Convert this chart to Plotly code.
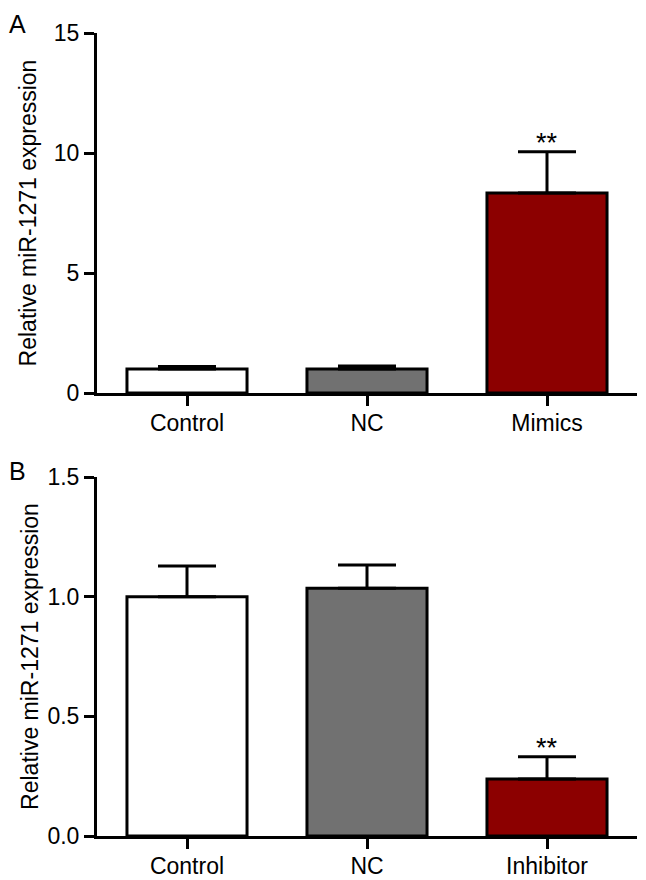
import plotly.graph_objects as go

# Panel A data
cats_a = ["Control", "NC", "Mimics"]
vals_a = [1.0, 1.0, 8.33]
err_a = [0.1, 0.12, 1.72]
sig_a = ["", "", "**"]

# Panel B data
cats_b = ["Control", "NC", "Inhibitor"]
vals_b = [1.0, 1.035, 0.238]
err_b = [0.128, 0.097, 0.093]
sig_b = ["", "", "**"]

colors = ["#ffffff", "#717171", "#8c0000"]
y_title = "Relative miR-1271 expression"
FONT = "Liberation Sans, Arial, sans-serif"
FS = 23

# page body has an 8px margin, so the figure is drawn 8px in from the corner
W, H = 638, 872

fig = go.Figure()

def add_panel(cats, vals, errs, xa, ya):
    fig.add_trace(go.Bar(
        x=cats, y=vals, xaxis=xa, yaxis=ya,
        width=0.667,
        marker=dict(color=colors, line=dict(color="black", width=3)),
        error_y=dict(type="data", symmetric=False, array=errs,
                     arrayminus=[0] * len(errs),
                     color="black", thickness=3, width=29),
        showlegend=False,
    ))

add_panel(cats_a, vals_a, err_a, "x", "y")
add_panel(cats_b, vals_b, err_b, "x2", "y2")

axis_common = dict(
    showline=True, linecolor="black", linewidth=3,
    ticks="outside", ticklen=10, tickwidth=3, tickcolor="black",
    showgrid=False, zeroline=False, automargin=False,
    tickfont=dict(family=FONT, size=FS, color="black"),
)

xd = [89 / W, 629 / W]
fig.update_layout(
    width=W, height=H,
    margin=dict(l=0, r=0, t=0, b=0, autoexpand=False),
    paper_bgcolor="white", plot_bgcolor="white",
    font=dict(family=FONT, color="black"),
    bargap=0.333,
    xaxis=dict(domain=xd, anchor="y", range=[-0.5, 2.5], ticklabelstandoff=-3, **axis_common),
    yaxis=dict(domain=[1 - 385 / H, 1 - 25 / H], anchor="x",
               range=[0, 15], tickvals=[0, 5, 10, 15], ticktext=["0", "5", "10", "15"],
               title=dict(text=y_title, font=dict(family=FONT, size=FS, color="black"), standoff=11),
               **axis_common),
    xaxis2=dict(domain=xd, anchor="y2", range=[-0.5, 2.5], ticklabelstandoff=-3, **axis_common),
    yaxis2=dict(domain=[1 - 828 / H, 1 - 469 / H], anchor="x2",
                range=[0, 1.5], tickvals=[0, 0.5, 1.0, 1.5], ticktext=["0.0", "0.5", "1.0", "1.5"],
                title=dict(text=y_title, font=dict(family=FONT, size=FS, color="black"), standoff=3),
                **axis_common),
)

# significance stars
for c, v, e, s in zip(cats_a, vals_a, err_a, sig_a):
    if s:
        fig.add_annotation(x=c, y=v + e, xref="x", yref="y", text=s, showarrow=False,
                           yanchor="middle", yshift=9, font=dict(family=FONT, size=27, color="black"))
for c, v, e, s in zip(cats_b, vals_b, err_b, sig_b):
    if s:
        fig.add_annotation(x=c, y=v + e, xref="x2", yref="y2", text=s, showarrow=False,
                           yanchor="middle", yshift=9, font=dict(family=FONT, size=27, color="black"))

# panel labels
fig.add_annotation(x=10 / W, y=1.0, xref="paper", yref="paper", text="A",
                   showarrow=False, xanchor="center", yanchor="top",
                   font=dict(family=FONT, size=25, color="black"))
fig.add_annotation(x=10 / W, y=1 - 463 / H, xref="paper", yref="paper", text="B",
                   showarrow=False, xanchor="center", yanchor="middle",
                   font=dict(family=FONT, size=25, color="black"))

fig.write_html("out.html")
